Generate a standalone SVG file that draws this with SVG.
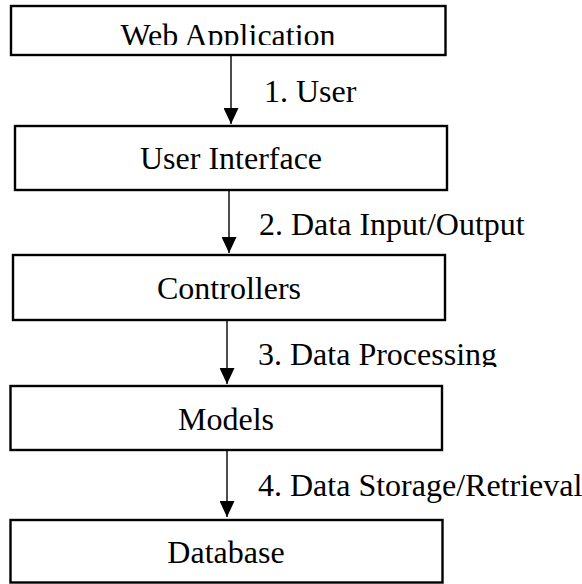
<svg xmlns="http://www.w3.org/2000/svg" width="582" height="584" viewBox="0 0 582 584">
<style>
  .box{fill:#fff;stroke:#000;stroke-width:2.4}
  .t{font-family:"Liberation Serif","Times New Roman",serif;font-size:32px;fill:#000}
  .c{text-anchor:middle}
  .edge{stroke:#111;stroke-width:1.5;fill:none}
</style>
<defs>
  <marker id="ah" markerUnits="userSpaceOnUse" markerWidth="16" markerHeight="15" refX="16" refY="7.5" orient="auto">
    <path d="M0,0 L16,7.5 L0,15 z" fill="#000"/>
  </marker>
  <clipPath id="clip1"><rect x="0" y="0" width="582" height="45"/></clipPath>
  <clipPath id="clip3"><rect x="0" y="330" width="582" height="37"/></clipPath>
</defs>
<rect width="582" height="584" fill="#fff"/>
<g id="connectors">
  <g id="e1"><line class="edge" x1="231" y1="55" x2="231" y2="124" marker-end="url(#ah)"/>
    <text class="t" x="264" y="102">1. User</text></g>
  <g id="e2"><line class="edge" x1="229" y1="190" x2="229" y2="253" marker-end="url(#ah)"/>
    <text class="t" x="259" y="235">2. Data Input/Output</text></g>
  <g id="e3"><line class="edge" x1="227" y1="320" x2="227" y2="384" marker-end="url(#ah)"/>
    <text class="t" x="258" y="365" clip-path="url(#clip3)">3. Data Processing</text></g>
  <g id="e4"><line class="edge" x1="227" y1="450" x2="227" y2="517" marker-end="url(#ah)"/>
    <text class="t" x="258" y="496">4. Data Storage/Retrieval</text></g>
</g>
<g id="web-application">
  <rect class="box" x="11" y="6" width="434.5" height="49"/>
  <text class="t c" x="228" y="46" clip-path="url(#clip1)">Web Application</text>
</g>
<g id="user-interface">
  <rect class="box" x="15" y="126" width="432" height="64"/>
  <text class="t c" x="231" y="169">User Interface</text>
</g>
<g id="controllers">
  <rect class="box" x="13" y="255" width="432" height="65"/>
  <text class="t c" x="229" y="299">Controllers</text>
</g>
<g id="models">
  <rect class="box" x="10.5" y="386" width="431.5" height="64"/>
  <text class="t c" x="226" y="430">Models</text>
</g>
<g id="database">
  <rect class="box" x="10.5" y="520" width="432" height="62.5"/>
  <text class="t c" x="226" y="563">Database</text>
</g>
</svg>
